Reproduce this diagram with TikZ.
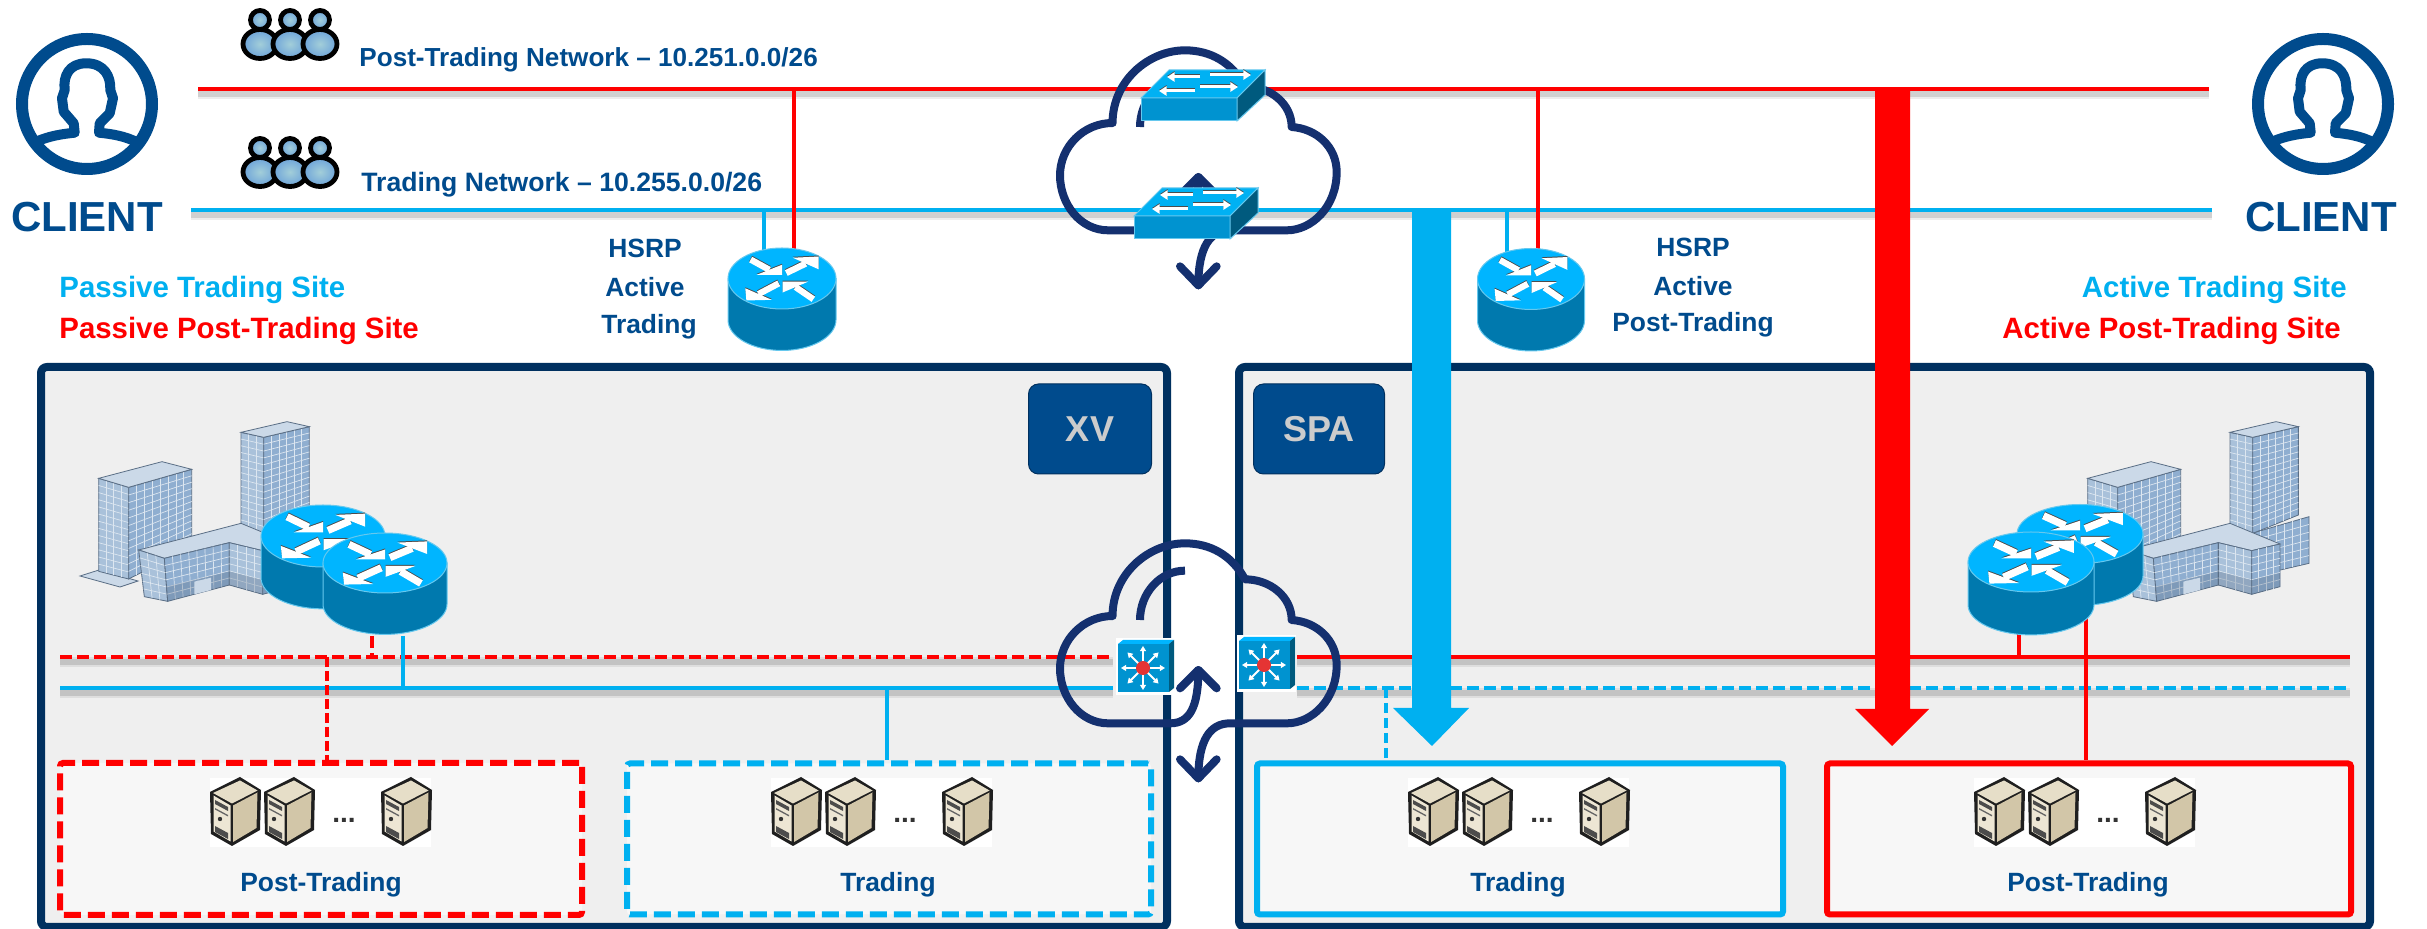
\documentclass[tikz,border=0pt]{standalone}
\usepackage{fontspec}
\setmainfont{Liberation Sans}
\usetikzlibrary{calc,arrows.meta}
\definecolor{tblue}{HTML}{004B8D}
\definecolor{cyanL}{HTML}{00B0F0}
\definecolor{redL}{HTML}{FF0000}
\definecolor{panelE}{HTML}{00305F}
\definecolor{panelF}{HTML}{EFEFEF}
\definecolor{boxF}{HTML}{F7F7F7}
\definecolor{cloudC}{HTML}{14306F}
\definecolor{rtTop}{HTML}{00B5FF}
\definecolor{rtSide}{HTML}{0079AE}
\definecolor{rtEdge}{HTML}{66C8EE}
\definecolor{swFront}{HTML}{0093D0}
\definecolor{swSide}{HTML}{005A7E}
\definecolor{bldA}{HTML}{8FAED0}
\definecolor{bldB}{HTML}{A9C1DA}
\definecolor{bldT}{HTML}{CBD9E8}
\definecolor{bldE}{HTML}{5A6E85}
\definecolor{bldW}{HTML}{DCE6F0}
\definecolor{srvT}{HTML}{E6DEC8}
\definecolor{srvL}{HTML}{EDE6D4}
\definecolor{srvR}{HTML}{D2C6A8}
\tikzset{
 x=0.5pt,y=-0.5pt,
 shad/.style={preaction={draw=black,opacity=.07,line width=5pt,transform canvas={yshift=-2.6pt}},
              preaction={draw=black,opacity=.12,line width=2.8pt,transform canvas={yshift=-2.6pt}}},
 bus/.style={line width=2pt,shad},
 drop/.style={line width=1.6pt},
 dashA/.style={dash pattern=on 6pt off 2.5pt},
 panel/.style={draw=panelE,fill=panelF,line width=4pt,rounded corners=3pt},
 badge/.style={fill=tblue,rounded corners=5pt,draw=panelE,line width=.5pt,text=black!20,font=\bfseries\fontsize{18pt}{20pt}\selectfont,inner sep=0pt},
 hbox/.style={fill=boxF,line width=3pt,rounded corners=1.5pt},
 dashB/.style={dash pattern=on 8.5pt off 3.5pt},
 lbl/.style={text=tblue,font=\bfseries\fontsize{13.2pt}{15pt}\selectfont,inner sep=0pt},
 lblw/.style={lbl,anchor=west},
 site/.style={font=\bfseries\fontsize{14.7pt}{16pt}\selectfont,inner sep=0pt},
 clientT/.style={text=tblue,font=\bfseries\fontsize{21pt}{24pt}\selectfont,inner sep=0pt},
 cloudL/.style={draw=cloudC,line width=4pt,line cap=round,line join=round},
 swarr/.style={draw=white,line width=1.5pt,-{Triangle[width=4.6pt,length=3.8pt]}},
 swarrS/.style={draw=black!70,line width=1.5pt,-{Triangle[width=4.6pt,length=3.8pt]}},
 mlsarr/.style={draw=white,line width=1pt,{Triangle[width=3pt,length=2.6pt]}-{Triangle[width=3pt,length=2.6pt]}},
}
% client icon: #1 centre x
\newcommand\clientpic[1]{%
 \begin{scope}[shift={(#1,104)}]
  \draw[tblue,line width=6pt] (0,0) circle[radius=65];
  \draw[tblue,line width=5pt,line join=round,line cap=round] (-50.7,37.7) .. controls (-38,32) and (-25,30) .. (-12.3,28.7) -- (-13.3,19.3) -- (-23.3,7.7) -- (-25,-5.7) -- (-22.3,-14) .. controls (-24,-28) and (-18,-40.7) .. (-.7,-40.7) .. controls (17,-40.7) and (24,-28) .. (23.3,-14) -- (26,-5.7) -- (22.7,9.3) -- (12.7,19.3) -- (12,28.7) .. controls (25,30) and (38,32) .. (51,38.7);
 \end{scope}}
% people icon
\newcommand\onepers[1]{%
 \path[inner color=blue!20!cyan!25!white!85!black,outer color=blue!50!cyan!50!white!85!black,draw=black,line width=2.4pt] (#1,39) ellipse[x radius=17,y radius=14.5];
 \path[inner color=blue!20!cyan!25!white!85!black,outer color=blue!50!cyan!50!white!85!black,draw=black,line width=2.4pt] (#1,15) circle[radius=9.5];}
\newcommand\peoplepic[3]{%
 \begin{scope}[shift={(#1,#2)}]
  \coordinate (#3) at (50,28);
  \onepers{20}\onepers{50}\onepers{80}
 \end{scope}}
% one router arrow: tail, tip, head corner 1, head corner 2
\newcommand\rarrowpiece[4]{%
 \draw[line width=\rlw] #1 -- ($#3!.5!#4$);
 \fill #2 -- #3 -- #4 -- cycle;}
\newcommand\rarrows{%
 \rarrowpiece{(-.58,-.62)}{(.0,-.12)}{(.0,-.45)}{(-.47,-.12)}%
 \rarrowpiece{(.08,-.18)}{(.68,-.72)}{(.2,-.68)}{(.68,-.3)}%
 \rarrowpiece{(-.06,.16)}{(-.66,.72)}{(-.68,.32)}{(-.19,.70)}%
 \rarrowpiece{(.58,.68)}{(.01,.10)}{(.49,.10)}{(.01,.46)}}
% router: cx, cy (top ellipse centre), rx, ry, h (in ry units), name
\newcommand\routerpic[6]{%
 \begin{scope}[shift={(#1,#2)},x=#3*0.5pt,y=-#4*0.5pt]
  \coordinate (#6) at (0,0);
  \pgfmathsetlengthmacro\rlw{#3*0.058pt}
  \fill[rtSide,draw=rtEdge,line width=.5pt] (-1,0) -- (-1,#5) .. controls (-1,#5+.55) and (-.55,#5+1) .. (0,#5+1) .. controls (.55,#5+1) and (1,#5+.55) .. (1,#5) -- (1,0) -- cycle;
  \fill[rtTop,draw=rtEdge,line width=.5pt] (0,0) circle[radius=1];
  \begin{scope}[yshift=.5pt,black!70,fill=black!70]\rarrows\end{scope}
  \begin{scope}[white,fill=white]\rarrows\end{scope}
 \end{scope}}
% workgroup switch: front top-left corner
\newcommand\switchpic[3]{%
 \begin{scope}[shift={(#1,#2)}]
  \coordinate (#3) at (48,10);
  \fill[swFront,draw=rtEdge,line width=.5pt] (0,0) rectangle (96,23);
  \fill[cyanL!80!rtTop,draw=rtEdge,line width=.5pt] (0,0) -- (28,-28) -- (124,-28) -- (96,0) -- cycle;
  \fill[swSide,draw=rtEdge,line width=.5pt] (96,0) -- (124,-28) -- (124,-3) -- (96,23) -- cycle;
  \foreach \a/\b/\c in {59/26/-21,54/18/-7,69/110/-23,59/97/-11} {\draw[swarrS] (\a,\c-1) -- (\b,\c-1); \draw[swarr] (\a,\c) -- (\b,\c);}
 \end{scope}}
% multilayer switch: centre x,y ; name
\newcommand\mlspic[3]{%
 \begin{scope}[shift={(#1,#2)}]
  \coordinate (#3) at (0,0);
  \fill[white] (-27,-30) rectangle (32,27);
  \fill[swFront] (-25,-24) rectangle (26,24);
  \fill[rtTop] (-25,-24) -- (-20,-28) -- (31,-28) -- (26,-24) -- cycle;
  \fill[swSide] (26,-24) -- (31,-28) -- (31,20) -- (26,24) -- cycle;
  \draw[black,line width=.6pt] (-15,0) -- (16,0);
  \foreach \a in {0,45,...,135} {\draw[mlsarr] ({cos(\a)*22},{sin(\a)*22}) -- ({-cos(\a)*22},{-sin(\a)*22});}
  \fill[red!70!pink!90!black] (0,0) circle[radius=7];
 \end{scope}}
% cloud, drawn in 3x crop coordinates; #1 = y shift
\newcommand\cloudpic[1]{%
 \begin{scope}[shift={(1000,#1)},x=0.16667pt,y=-0.16667pt]
  \draw[cloudL] (510,670) -- (325,670) .. controls (240,670) and (180,590) .. (180,505) .. controls (180,420) and (250,348) .. (338,348) -- (338,335) .. controls (345,215) and (450,130) .. (555,130) .. controls (630,130) and (695,165) .. (735,238) .. controls (810,238) and (875,290) .. (875,360) .. controls (950,365) and (1010,420) .. (1010,495) .. controls (1010,600) and (935,670) .. (860,670) -- (690,670) .. controls (630,670) and (595,720) .. (595,835);
  \draw[cloudL] (510,670) .. controls (570,670) and (595,620) .. (595,510);
  \draw[cloudL] (540,565) -- (595,510) -- (650,565);
  \draw[cloudL] (540,778) -- (595,835) -- (650,778);
  \draw[cloudL,line cap=butt] (420,360) .. controls (420,280) and (480,212) .. (555,212);
 \end{scope}}
% building face with window grid
\newcommand\gface[7]{%
 \fill[#7,draw=bldE,line width=.4pt] #1 -- #2 -- #3 -- #4 -- cycle;
 \foreach \t in {1,...,#5} {\pgfmathsetmacro\f{\t/(#5+1)} \draw[bldW,line width=.35pt] ($#1!\f!#2$) -- ($#4!\f!#3$);}
 \foreach \t in {1,...,#6} {\pgfmathsetmacro\f{\t/(#6+1)} \draw[bldW,line width=.35pt] ($#1!\f!#4$) -- ($#2!\f!#3$);}}
% building, in 3x crop coordinates; #1 = x shift of the crop origin
\newcommand\buildingpic[1]{%
 \begin{scope}[shift={(#1,400)},x=0.16667pt,y=-0.16667pt]
  \fill[bldT,draw=bldE,line width=.4pt] (357,528) -- (414,510) -- (531,543) -- (477,561) -- cycle;
  \gface{(413,235)}{(503,262)}{(503,537)}{(413,514)}{3}{12}{bldB}
  \gface{(503,262)}{(692,208)}{(692,440)}{(503,537)}{7}{11}{bldA}
  \fill[bldT,draw=bldE,line width=.4pt] (413,235) -- (603,185) -- (692,208) -- (503,262) -- cycle;
  \gface{(905,400)}{(1077,350)}{(1077,490)}{(905,530)}{6}{5}{bldA}
  \gface{(840,97)}{(908,112)}{(908,400)}{(840,380)}{2}{13}{bldB}
  \gface{(908,112)}{(1045,80)}{(1045,345)}{(908,400)}{5}{13}{bldA}
  \fill[bldT,draw=bldE,line width=.4pt] (840,97) -- (978,65) -- (1045,80) -- (908,112) -- cycle;
  \fill[bldT,draw=bldE,line width=.4pt] (533,450) -- (840,370) -- (990,432) -- (905,452) -- (805,428) -- (610,475) -- cycle;
  \gface{(533,450)}{(610,475)}{(620,604)}{(550,590)}{2}{5}{bldB}
  \gface{(610,475)}{(805,428)}{(805,555)}{(620,604)}{7}{5}{bldA}
  \gface{(805,428)}{(905,452)}{(905,583)}{(805,555)}{3}{5}{bldB}
  \gface{(905,452)}{(990,432)}{(990,560)}{(905,583)}{3}{5}{bldA}
  \fill[bldE,opacity=.3] (615,560) -- (805,514) -- (805,555) -- (620,604) -- cycle;
  \fill[bldE,opacity=.3] (805,514) -- (905,540) -- (905,583) -- (805,555) -- cycle;
  \fill[bldE,opacity=.3] (905,540) -- (990,518) -- (990,560) -- (905,583) -- cycle;
  \fill[bldT] (700,545) -- (750,533) -- (750,570) -- (700,583) -- cycle;
 \end{scope}}
% server
\newcommand\serverpic[2]{%
 \begin{scope}[shift={(#1,#2)}]
  \fill[black!88] (30,-1) -- (51,12) -- (50,52) -- (22,68) -- (1,56) -- (0,14) -- cycle;
  \fill[srvT] (3,15) -- (30,2.5) -- (47.5,12.5) -- (22,25.5) -- cycle;
  \fill[srvL] (3.5,17.5) -- (20.5,27.5) -- (20.5,63.5) -- (3.5,53.5) -- cycle;
  \fill[srvR] (23,27.5) -- (47.5,14.5) -- (46.5,50) -- (23,64) -- cycle;
  \fill[black!70] (5,22) -- (18,29) -- (18,33) -- (5,26) -- cycle;
  \fill[black!60] (5,30) -- (18,37) -- (18,38.5) -- (5,31.5) -- cycle;
  \fill[black!80] (10,41) circle[radius=2.2];
  \fill[black!70] (5,48) -- (18,55) -- (18,61) -- (5,54) -- cycle;
 \end{scope}}
\newcommand\srvgroup[2]{%
 \fill[white] (#1,#2) rectangle ++(221,69);
 \serverpic{#1}{#2}
 \serverpic{#1+54}{#2}
 \serverpic{#1+171}{#2}
 \node[inner sep=0pt,anchor=base,text=black!80,font=\bfseries\fontsize{14pt}{16pt}\selectfont] at (#1+134,#2+45) {...};}

\begin{document}
\begin{tikzpicture}
\useasboundingbox (0,0) rectangle (2427,929);
\fill[white] (0,0) rectangle (2427,929);

% panels
\draw[panel] (41,367) rectangle (1167,927);
\draw[panel] (1239,367) rectangle (2370,927);
\node[badge,minimum width=123*0.5pt,minimum height=90*0.5pt] (xv) at (1090,429) {XV};
\node[badge,minimum width=131*0.5pt,minimum height=90*0.5pt] (spa) at (1319,429) {SPA};

% hosted boxes
\node[hbox,draw=redL,dashB,minimum width=522*0.5pt,minimum height=152*0.5pt,inner sep=0pt] (bpost) at (321,839) {};
\node[hbox,draw=cyanL,dashB,minimum width=524*0.5pt,minimum height=151*0.5pt,inner sep=0pt] (btrade) at (889,839) {};
\node[hbox,draw=cyanL,minimum width=526*0.5pt,minimum height=151*0.5pt,inner sep=0pt] (atrade) at (1520,839) {};
\node[hbox,draw=redL,minimum width=524*0.5pt,minimum height=151*0.5pt,inner sep=0pt] (apost) at (2089,839) {};

% endpoints of the networks
\coordinate (pA) at (198,89);  \coordinate (pB) at (2209,89);
\coordinate (tA) at (191,210); \coordinate (tB) at (2212,210);
\coordinate (lpA) at (60,657); \coordinate (lpB) at (1113,657);
\coordinate (ltA) at (60,688); \coordinate (ltB) at (1113,688);
\coordinate (rpA) at (1297,657); \coordinate (rpB) at (2350,657);
\coordinate (rtA) at (1297,688); \coordinate (rtB) at (2350,688);

\draw[bus,redL] (pA) -- (pB);
\draw[bus,cyanL] (tA) -- (tB);
\draw[bus,redL,dashA] (lpA) -- (lpB);
\draw[bus,cyanL] (ltA) -- (ltB);
\draw[bus,redL] (rpA) -- (rpB);
\draw[bus,cyanL,dashA] (rtA) -- (rtB);

% buildings
\buildingpic{-39}
\buildingpic{1950}

% drops inside the left site
\coordinate (l1) at (372,636); \coordinate (l2) at (403,636);
\draw[drop,redL,dashA] (l1) -- (372,657);
\draw[drop,cyanL] (l2) -- (403,688);
\draw[drop,redL,dash pattern=on 5pt off 2pt] (327,657) -- (bpost.north -| 327,0);
\draw[drop,cyanL] (887,688) -- (btrade.north -| 887,0);
% drops inside the right site
\draw[drop,cyanL,dash pattern=on 5pt off 2.5pt] (1386,688) -- (atrade.north -| 1386,0);
\draw[line width=2pt,redL] (2019,630) -- (2019,657);
\draw[line width=2pt,redL] (2086,618) -- (apost.north -| 2086,0);
% drops from the networks to the HSRP routers
\draw[drop,cyanL] (764,210) -- (764,255);
\draw[drop,redL] (794,89) -- (794,255);
\draw[drop,cyanL] (1507,210) -- (1507,255);
\draw[drop,redL] (1538,89) -- (1538,255);

% routers
\routerpic{782}{278.5}{54}{30.5}{1.36}{rL}
\routerpic{1531}{279}{53.5}{30.5}{1.36}{rR}
\routerpic{323}{536}{62}{31}{1.35}{sL1}
\routerpic{385}{563}{62}{30}{1.38}{sL2}
\routerpic{2080}{534}{63}{29.5}{1.42}{sR1}
\routerpic{2031}{562}{63}{30}{1.43}{sR2}

% traffic arrows
\fill[cyanL] (1412,210) -- (1451,210) -- (1451,708) -- (1469,708) -- (1432,746) -- (1393,708) -- (1412,708) -- cycle;
\fill[redL] (1875,89) -- (1910,89) -- (1910,709) -- (1929,709) -- (1892,746) -- (1855,709) -- (1875,709) -- cycle;

% clouds
\cloudpic{7}
\cloudpic{500}

% switches
\switchpic{1141}{98}{sw1}
\switchpic{1134}{216}{sw2}
\mlspic{1143}{668}{mls1}
\mlspic{1264}{665}{mls2}

% servers
\srvgroup{210}{778}
\srvgroup{771}{778}
\srvgroup{1408}{778}
\srvgroup{1974}{778}

% clients and people
\clientpic{87}
\clientpic{2323}
\node[clientT] (c1) at (87,217) {CLIENT};
\node[clientT] (c2) at (2321,217) {CLIENT};
\peoplepic{240}{5}{pp1}
\peoplepic{240}{133}{pp2}

% labels
\node[lblw,font=\bfseries\fontsize{13.05pt}{15pt}\selectfont] (n1) at (359,60) {Post-Trading Network – 10.251.0.0/26};
\node[lblw,font=\bfseries\fontsize{13.3pt}{15pt}\selectfont] (n2) at (361,185) {Trading Network – 10.255.0.0/26};
\node[lbl] (h1) at (645,248) {HSRP};
\node[lbl] (h2) at (645,287) {Active};
\node[lbl] (h3) at (649,327) {Trading};
\node[lbl] (h4) at (1693,247) {HSRP};
\node[lbl] (h5) at (1693,286) {Active};
\node[lbl] (h6) at (1693,325) {Post-Trading};
\node[site,text=cyanL,anchor=west] (s1) at (59,290) {Passive Trading Site};
\node[site,text=redL,anchor=west] (s2) at (59,331) {Passive Post-Trading Site};
\node[site,text=cyanL,anchor=east] (s3) at (2347,290) {Active Trading Site};
\node[site,text=redL,anchor=east] (s4) at (2341,331) {Active Post-Trading Site};
\node[lbl] (t1) at (321,885) {Post-Trading};
\node[lbl] (t2) at (888,885) {Trading};
\node[lbl] (t3) at (1518,885) {Trading};
\node[lbl] (t4) at (2088,885) {Post-Trading};
\end{tikzpicture}
\end{document}
